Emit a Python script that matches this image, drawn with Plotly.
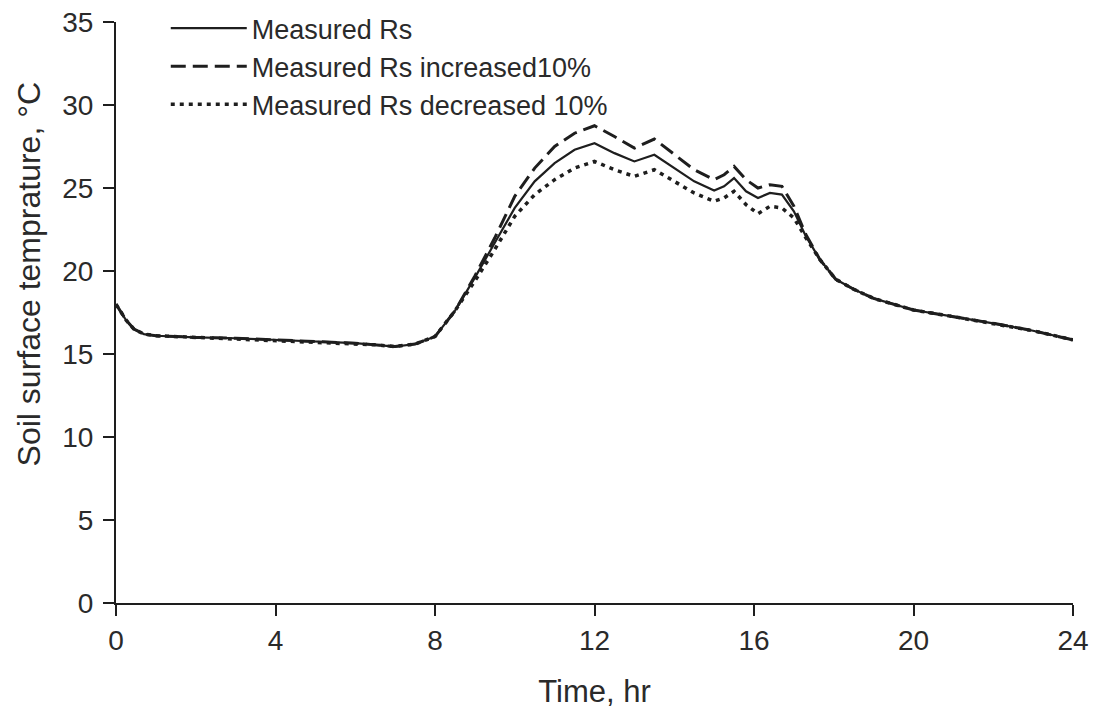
import plotly.graph_objects as go

# ---- data ----
time_hr = [0, 0.1, 0.25, 0.45, 0.7, 1, 2, 3, 4, 5, 6, 6.5, 7, 7.5, 8, 8.5, 9, 9.5, 10, 10.5,
           11, 11.5, 12, 12.5, 13, 13.5, 14, 14.5, 15, 15.25, 15.5, 15.8, 16.1, 16.4, 16.7,
           17, 17.3, 17.65, 18.05, 18.5, 19, 19.5, 20, 21, 22, 23, 24]

measured = [18.0, 17.6, 17.05, 16.5, 16.2, 16.1, 16.0, 15.95, 15.85, 15.75, 15.65, 15.55, 15.45, 15.6,
            16.05, 17.6, 19.6, 21.7, 23.8, 25.4, 26.5, 27.3, 27.7, 27.1, 26.6, 27.0, 26.2, 25.4,
            24.85, 25.1, 25.6, 24.8, 24.4, 24.7, 24.6, 23.6, 22.1, 20.7, 19.5, 18.9, 18.35, 18.0,
            17.65, 17.25, 16.85, 16.4, 15.85]

increased = [18.0, 17.6, 17.05, 16.5, 16.2, 16.1, 16.0, 15.95, 15.85, 15.75, 15.65, 15.55, 15.45, 15.6,
             16.05, 17.6, 19.7, 22.0, 24.5, 26.2, 27.5, 28.3, 28.75, 28.1, 27.4, 27.95, 27.0, 26.1,
             25.5, 25.8, 26.3, 25.5, 25.0, 25.2, 25.1, 23.9, 22.2, 20.7, 19.5, 18.9, 18.35, 18.0,
             17.65, 17.25, 16.85, 16.4, 15.85]

decreased = [18.0, 17.6, 17.05, 16.5, 16.2, 16.1, 16.0, 15.95, 15.85, 15.75, 15.65, 15.55, 15.45, 15.6,
             16.05, 17.6, 19.4, 21.3, 23.3, 24.6, 25.5, 26.2, 26.6, 26.1, 25.7, 26.1, 25.4, 24.7,
             24.2, 24.4, 24.8, 24.0, 23.45, 23.9, 23.8, 23.2, 22.0, 20.7, 19.5, 18.9, 18.35, 18.0,
             17.65, 17.25, 16.85, 16.4, 15.85]

x_ticks = [0, 4, 8, 12, 16, 20, 24]
y_ticks = [0, 5, 10, 15, 20, 25, 30, 35]

names = ["Measured Rs", "Measured Rs increased10%", "Measured Rs decreased 10%"]
x_title = "Time, hr"
y_title = "Soil surface temprature, °C"

ink = "#1e1e1e"
text_color = "#2a2a2a"
font_family = "Liberation Sans, Arial, sans-serif"

fig = go.Figure()
fig.add_trace(go.Scatter(x=time_hr, y=measured, mode="lines", name=names[0],
                         line=dict(color=ink, width=2.2, dash="solid")))
fig.add_trace(go.Scatter(x=time_hr, y=increased, mode="lines", name=names[1],
                         line=dict(color=ink, width=3, dash="15px,7px")))
fig.add_trace(go.Scatter(x=time_hr, y=decreased, mode="lines", name=names[2],
                         line=dict(color=ink, width=3.5, dash="4px,5px")))

axis_common = dict(showline=True, linecolor=ink, linewidth=2, ticks="outside",
                   ticklen=11, tickwidth=2, tickcolor=ink, showgrid=False, zeroline=False,
                   automargin=False,
                   tickfont=dict(family=font_family, size=28, color=text_color))

fig.update_xaxes(range=[0, 24], tickvals=x_ticks, ticktext=[str(v) for v in x_ticks],
                 title=dict(text=x_title, font=dict(family=font_family, size=31, color=text_color),
                            standoff=26),
                 **axis_common)
fig.update_yaxes(range=[0, 35], tickvals=y_ticks, ticktext=[str(v) for v in y_ticks],
                 ticklabelstandoff=4, domain=[0, 581 / 603],
                 **axis_common)

fig.add_annotation(text=y_title, xref="paper", yref="paper", x=-0.0905, y=(603 - 274) / 603,
                   xanchor="center", yanchor="middle", textangle=-90, showarrow=False,
                   font=dict(family=font_family, size=32, color=text_color))

fig.update_layout(
    width=1096, height=713,
    margin=dict(l=116, r=23, t=0, b=110),
    plot_bgcolor="white", paper_bgcolor="white",
    showlegend=True,
    legend=dict(x=0.052, y=1 - 4 / 603, xanchor="left", yanchor="top",
                bgcolor="rgba(0,0,0,0)", itemwidth=76,
                font=dict(family=font_family, size=27, color=text_color),
                tracegroupgap=0),
)

fig.write_html("out.html")
